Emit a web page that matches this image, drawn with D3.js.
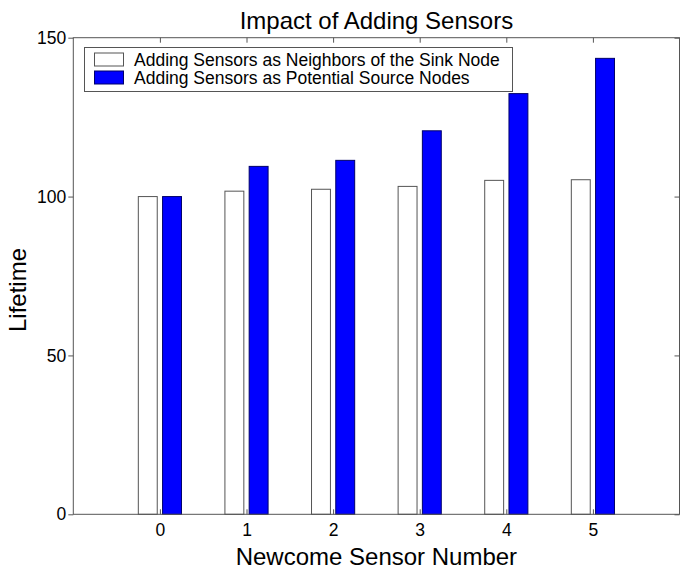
<!DOCTYPE html>
<html>
<head>
<meta charset="utf-8">
<script src="https://cdn.jsdelivr.net/npm/d3@7"></script>
<style>
  body { margin: 0; background: #fff; }
  text { font-family: "Liberation Sans", Arial, Helvetica, sans-serif; fill: #000; }
</style>
</head>
<body>
<div id="chart"></div>
<script>
var categories = [0, 1, 2, 3, 4, 5];
var neighbors = [100, 101.7, 102.3, 103.2, 105.1, 105.3];
var sources = [100, 109.5, 111.4, 120.7, 132.4, 143.5];
var yTicks = [0, 50, 100, 150];
var seriesNames = ['Adding Sensors as Neighbors of the Sink Node', 'Adding Sensors as Potential Source Nodes'];
var seriesColors = ['#ffffff', '#0000ff'];

var width = 685, height = 574;
var m = { l: 73.3, r: 679.5, t: 37.7, b: 514.3 };

var svg = d3.select('#chart').append('svg')
    .attr('width', width)
    .attr('height', height);

var x = d3.scaleLinear().domain([-1, 6]).range([m.l, m.r]);
var y = d3.scaleLinear().domain([0, 150]).range([m.b, m.t]);

var offset = 0.14, half = 0.115;

// bars
[neighbors, sources].forEach((vals, s) => {
  svg.append('g')
    .selectAll('rect')
    .data(vals)
    .enter().append('rect')
    .attr('x', (d, i) => x(categories[i] + (s ? offset : -offset) - half) + 0.5)
    .attr('width', x(half * 2) - x(0) - 1)
    .attr('y', (d) => y(d))
    .attr('height', (d) => y(0) - y(d))
    .attr('fill', seriesColors[s])
    .attr('stroke', s ? '#00006a' : '#555')
    .attr('stroke-width', 1);
});

// axes box
svg.append('rect')
    .attr('x', m.l).attr('y', m.t)
    .attr('width', m.r - m.l).attr('height', m.b - m.t)
    .attr('fill', 'none').attr('stroke', '#555').attr('stroke-width', 1);

var tk = 5;

svg.append('g')
    .attr('transform', `translate(0, ${ m.b })`)
    .call(d3.axisBottom(x).tickValues(categories).tickFormat(d3.format('d')).tickSizeInner(-tk).tickSizeOuter(0).tickPadding(9))
    .call((g) => g.select('.domain').remove())
    .call((g) => g.selectAll('line').attr('stroke', '#555'))
    .call((g) => g.selectAll('text').attr('font-size', 17.5).attr('font-family', null));

svg.append('g')
    .attr('transform', `translate(0, ${ m.t })`)
    .call(d3.axisTop(x).tickValues(categories).tickSizeInner(-tk).tickSizeOuter(0).tickFormat(''))
    .call((g) => g.select('.domain').remove())
    .call((g) => g.selectAll('line').attr('stroke', '#555'));

svg.append('g')
    .attr('transform', `translate(${ m.l }, 0)`)
    .call(d3.axisLeft(y).tickValues(yTicks).tickSizeInner(tk).tickSizeOuter(0).tickPadding(2))
    .call((g) => g.select('.domain').remove())
    .call((g) => g.selectAll('line').attr('stroke', '#555'))
    .call((g) => g.selectAll('text').attr('font-size', 17.5).attr('font-family', null));

svg.append('g')
    .attr('transform', `translate(${ m.r }, 0)`)
    .call(d3.axisRight(y).tickValues(yTicks).tickSizeInner(-tk).tickSizeOuter(0).tickFormat(''))
    .call((g) => g.select('.domain').remove())
    .call((g) => g.selectAll('line').attr('stroke', '#555'));

// titles
svg.append('text')
    .attr('x', (m.l + m.r) / 2).attr('y', 28.5)
    .attr('text-anchor', 'middle')
    .attr('font-size', 24)
    .text('Impact of Adding Sensors');

svg.append('text')
    .attr('x', (m.l + m.r) / 2).attr('y', 564.5)
    .attr('text-anchor', 'middle')
    .attr('font-size', 24)
    .text('Newcome Sensor Number');

svg.append('text')
    .attr('transform', `translate(26, 290) rotate(-90)`)
    .attr('text-anchor', 'middle')
    .attr('font-size', 24)
    .text('Lifetime');

// legend
var legend = svg.append('g');

legend.append('rect')
    .attr('x', 84.5).attr('y', 47.5)
    .attr('width', 428).attr('height', 44)
    .attr('fill', '#fff').attr('stroke', '#555');

seriesNames.forEach((name, i) => {
  let cy = 59.5 + i * 18;

  legend.append('rect')
    .attr('x', 94.5).attr('y', cy - 6.5)
    .attr('width', 29).attr('height', 13)
    .attr('fill', seriesColors[i])
    .attr('stroke', i ? '#00006a' : '#555');

  legend.append('text')
    .attr('x', 134).attr('y', cy + 6)
    .attr('font-size', 17.5)
    .text(name);
});
</script>
</body>
</html>
